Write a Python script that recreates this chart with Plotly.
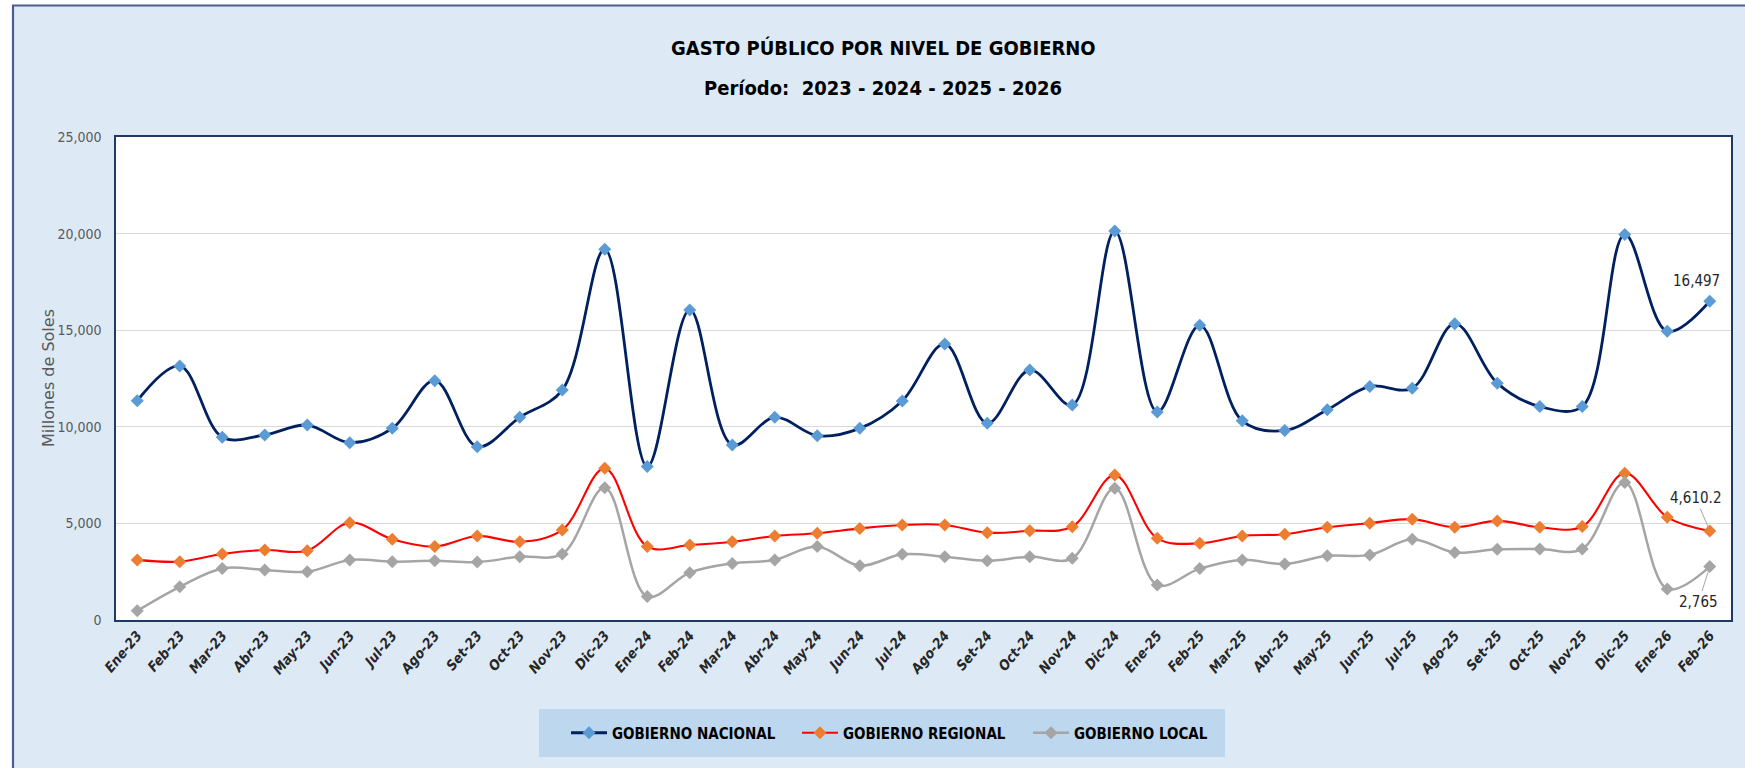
import plotly.graph_objects as go

months = ["Ene", "Feb", "Mar", "Abr", "May", "Jun", "Jul", "Ago", "Set", "Oct", "Nov", "Dic"]
periodos = ([f"{m}-23" for m in months] + [f"{m}-24" for m in months]
            + [f"{m}-25" for m in months] + ["Ene-26", "Feb-26"])

nacional = [11350, 13150, 9460, 9580, 10090, 9180, 9920, 12390, 8970, 10490, 11900, 19190,
            7940, 16050, 9060, 10490, 9540, 9920, 11340, 14290, 10180, 12940, 11130, 20130,
            10770, 15250, 10310, 9810, 10880, 12090, 12000, 15340, 12260, 11050, 11050, 19950,
            14940, 16497]
regional = [3110, 3020, 3420, 3620, 3590, 5040, 4180, 3800, 4350, 4050, 4660, 7850,
            3800, 3880, 4050, 4350, 4490, 4740, 4920, 4920, 4520, 4620, 4830, 7500,
            4230, 3970, 4350, 4440, 4800, 5010, 5220, 4800, 5130, 4800, 4840, 7600,
            5320, 4610.2]
local = [480, 1720, 2670, 2590, 2500, 3110, 3020, 3070, 3000, 3280, 3420, 6850,
         1210, 2450, 2930, 3110, 3800, 2810, 3400, 3280, 3070, 3280, 3190, 6820,
         1810, 2660, 3110, 2900, 3320, 3370, 4180, 3490, 3660, 3680, 3680, 7120,
         1610, 2765]

W, H = 1745, 768
L, R, T, B = 116, 1731, 137, 620
PW, PH = R - L, B - T

def px(x):
    return (x - L) / PW

def py(y):
    return (B - y) / PH

NARROW = "Liberation Sans Narrow, DejaVu Sans Condensed, Roboto Condensed, Arial Narrow, sans-serif"

fig = go.Figure()
series = [
    ("GOBIERNO NACIONAL", nacional, "#002060", "#5B9BD5", 2.8),
    ("GOBIERNO REGIONAL", regional, "#FF0000", "#ED7D31", 2.1),
    ("GOBIERNO LOCAL", local, "#A5A5A5", "#A5A5A5", 2.5),
]
for name, vals, lc, mc, lw in series:
    fig.add_trace(go.Scatter(
        x=periodos, y=vals, name=name, mode="lines+markers",
        line=dict(color=lc, width=lw, shape="spline", smoothing=1.0),
        marker=dict(symbol="diamond", size=10, color=mc, line=dict(width=0)),
    ))

bg = "#DDEAF6"
border = "#4A5F8F"
shapes = [
    dict(type="rect", xref="paper", yref="paper", x0=px(-20), x1=px(12.5), y0=py(800), y1=py(-20),
         fillcolor="white", line=dict(width=0), layer="above"),
    dict(type="rect", xref="paper", yref="paper", x0=px(-20), x1=px(1800), y0=py(5), y1=py(-20),
         fillcolor="white", line=dict(width=0), layer="above"),
    dict(type="line", xref="paper", yref="paper", x0=px(13), x1=px(13), y0=py(5), y1=py(800),
         line=dict(color=border, width=2.2), layer="above"),
    dict(type="line", xref="paper", yref="paper", x0=px(12), x1=px(1800), y0=py(5.5), y1=py(5.5),
         line=dict(color=border, width=2.2), layer="above"),
    dict(type="rect", xref="paper", yref="paper", x0=px(539), x1=px(1225), y0=py(757), y1=py(709),
         fillcolor="#BDD7EE", line=dict(width=0), layer="below"),
]

annotations = [
    dict(text="<b>GASTO PÚBLICO POR NIVEL DE GOBIERNO</b>", xref="paper", yref="paper",
         x=px(883), y=py(48), showarrow=False, xanchor="center", yanchor="middle",
         font=dict(family=NARROW, size=20, color="#000000")),
    dict(text="<b>Período:  2023 - 2024 - 2025 - 2026</b>", xref="paper", yref="paper",
         x=px(883), y=py(88), showarrow=False, xanchor="center", yanchor="middle",
         font=dict(family=NARROW, size=20, color="#000000")),
    dict(text="Millones de Soles", xref="paper", yref="paper", x=px(48), y=py(378),
         textangle=-90, showarrow=False, xanchor="center", yanchor="middle",
         font=dict(family="DejaVu Sans, sans-serif", size=16, color="#595959")),
    dict(text="16,497", x=periodos[-1], y=nacional[-1], xref="x", yref="y", showarrow=False,
         yshift=20, xshift=-13, font=dict(family=NARROW, size=15, color="#262626")),
    dict(text="4,610.2", x=periodos[-1], y=regional[-1], xref="x", yref="y", showarrow=True,
         ax=-14, ay=-33, arrowhead=0, arrowwidth=1, arrowcolor="#A6A6A6", standoff=4,
         font=dict(family=NARROW, size=15, color="#262626")),
    dict(text="2,765", x=periodos[-1], y=local[-1], xref="x", yref="y", showarrow=True,
         ax=-11, ay=35, arrowhead=0, arrowwidth=1, arrowcolor="#A6A6A6", standoff=4,
         font=dict(family=NARROW, size=15, color="#262626")),
]

fig.update_layout(
    width=W, height=H,
    margin=dict(l=L, r=W - R, t=T, b=H - B),
    paper_bgcolor=bg, plot_bgcolor="white",
    shapes=shapes, annotations=annotations,
    showlegend=True,
    legend=dict(orientation="h", x=px(566), y=py(733), xanchor="left", yanchor="middle",
                bgcolor="rgba(0,0,0,0)", itemwidth=36, entrywidth=180, entrywidthmode="pixels",
                font=dict(family=NARROW, size=15, color="#000000", weight="bold"),
                itemclick=False),
    xaxis=dict(type="category", range=[-0.5, len(periodos) - 0.5], tickangle=-50,
               showline=True, linecolor="#1F3864", linewidth=1.5, mirror=True,
               showgrid=False, ticks="",
               tickfont=dict(family=NARROW, size=14, color="#262626", style="italic", weight="bold")),
    yaxis=dict(range=[0, 25000], dtick=5000, tickformat=",", showline=True,
               linecolor="#1F3864", linewidth=1.5, mirror=True,
               gridcolor="#D9D9D9", gridwidth=1.2, zeroline=False, ticks="",
               ticklabelstandoff=10,
               tickfont=dict(family=NARROW, size=14, color="#595959")),
)

fig.write_html("out.html", config={"displayModeBar": False},
               post_script="document.body.style.margin='0';document.body.style.overflow='hidden';")
